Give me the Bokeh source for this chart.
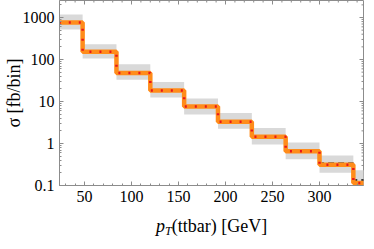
import math
from bokeh.plotting import figure
from bokeh.models import Range1d, FixedTicker, Div
from bokeh.layouts import column
from bokeh.embed import file_html
from bokeh.resources import INLINE

# ---- data ----
bin_edges = [12, 48, 84, 120, 156, 192, 228, 264, 300, 336, 372]
sigma_orange = [760, 152, 48, 18.3, 7.6, 3.3, 1.44, 0.65, 0.31, 0.115]
sigma_black = [760, 152, 48, 18.3, 7.6, 3.3, 1.50, 0.70, 0.34, 0.135]
sigma_red = [760, 152, 48, 18.3, 7.6, 3.3, 1.44, 0.65, 0.31, 0.115]
band_upper = [1180, 231, 77, 29, 11.8, 5.3, 2.35, 1.06, 0.52, 0.23]
band_lower = [518, 106, 33, 12.5, 4.9, 2.25, 0.95, 0.42, 0.20, 0.09]
x_ticks = [50, 100, 150, 200, 250, 300]
y_ticks = [0.1, 1, 10, 100, 1000]
y_tick_labels = {0.1: "0.1", 1: "1", 10: "10", 100: "100", 1000: "1000"}

FONT = "Liberation Serif"
FRAME = "#8c8c8c"

X0, X1 = 23.4, 346.8
Y0, Y1 = 0.1, 2540.0
W = 365
BL, BR, BT, BB = 59, 2, 0, 31
FRAME_H = 185
H = FRAME_H + BT + BB
p = figure(width=W, height=H, y_axis_type="log",
           x_range=Range1d(X0, X1), y_range=Range1d(Y0, Y1),
           output_backend="svg", toolbar_location=None,
           min_border_left=BL, min_border_right=BR, min_border_top=BT,
           min_border_bottom=BB)
p.grid.visible = False
p.outline_line_color = FRAME

x_minor = [v for v in range(30, 350, 10) if v % 50 != 0]
y_minor = [d * k for d in [0.1, 1, 10, 100, 1000] for k in range(2, 10)]

xt = FixedTicker(ticks=x_ticks, minor_ticks=x_minor)
yt = FixedTicker(ticks=y_ticks, minor_ticks=y_minor)

for ax in (p.xaxis[0], p.yaxis[0]):
    ax.axis_line_color = FRAME
    ax.major_tick_line_color = FRAME
    ax.minor_tick_line_color = FRAME
    ax.major_tick_in = 4
    ax.major_tick_out = 0
    ax.minor_tick_in = 2
    ax.minor_tick_out = 0
    ax.major_label_text_font = FONT
    ax.major_label_text_font_size = "16px"
    ax.major_label_text_color = "black"
    ax.major_label_standoff = 5
p.xaxis[0].axis_label = None
p.xaxis[0].ticker = xt
p.yaxis[0].ticker = yt
p.yaxis[0].major_label_overrides = y_tick_labels
p.yaxis[0].axis_label = "σ [fb/bin]"
p.yaxis[0].axis_label_text_font = FONT
p.yaxis[0].axis_label_text_font_size = "18px"
p.yaxis[0].axis_label_text_font_style = "normal"
p.yaxis[0].axis_label_text_color = "black"
p.yaxis[0].axis_label_standoff = -4

# inward ticks on the top and right edges of the frame
px_per_x = (W - BL - BR) / (X1 - X0)
px_per_dec = FRAME_H / (math.log10(Y1) - math.log10(Y0))
def xlen(px):
    return px / px_per_x
def yfac(px):
    return 10 ** (-px / px_per_dec)
top_major = list(x_ticks)
top_minor = [t for t in x_minor if X0 < t < X1]
p.segment(x0=top_major, x1=top_major, y0=[Y1] * len(top_major),
          y1=[Y1 * yfac(4)] * len(top_major), line_color=FRAME, line_width=1)
p.segment(x0=top_minor, x1=top_minor, y0=[Y1] * len(top_minor),
          y1=[Y1 * yfac(2)] * len(top_minor), line_color=FRAME, line_width=1)
r_minor = [t for t in y_minor if Y0 < t < Y1]
p.segment(x0=[X1] * len(y_ticks), x1=[X1 - xlen(4)] * len(y_ticks),
          y0=y_ticks, y1=y_ticks, line_color=FRAME, line_width=1)
p.segment(x0=[X1] * len(r_minor), x1=[X1 - xlen(2)] * len(r_minor),
          y0=r_minor, y1=r_minor, line_color=FRAME, line_width=1)

# uncertainty bands
p.quad(left=bin_edges[:-1], right=bin_edges[1:], bottom=band_lower, top=band_upper,
       fill_color="#d9d9d9", line_color=None)

# step lines
p.step(x=bin_edges, y=sigma_black + [sigma_black[-1]], mode="after",
       line_color="black", line_width=1.6, line_dash="6 4")
p.step(x=bin_edges, y=sigma_orange + [sigma_orange[-1]], mode="after",
       line_color="#ff8c1a", line_width=4.5)
p.step(x=bin_edges, y=sigma_red + [sigma_red[-1]], mode="after",
       line_color="#e8141e", line_width=2.5, line_dash="2 8")

# x-axis title with italic p and subscript T
xlabel = Div(
    text=("<div style=\"font-family:'Liberation Serif';font-size:18px;"
          "line-height:20px;padding-left:156px;margin:0;color:black;white-space:nowrap\">"
          "<i>p</i><sub style=\"font-size:12px;line-height:0;vertical-align:-3px\"><i>T</i></sub>"
          "(ttbar) [GeV]</div>"),
    width=W, height=24, margin=0)

layout = column(p, xlabel, spacing=0)
open("out.html", "w").write(file_html(layout, INLINE))
